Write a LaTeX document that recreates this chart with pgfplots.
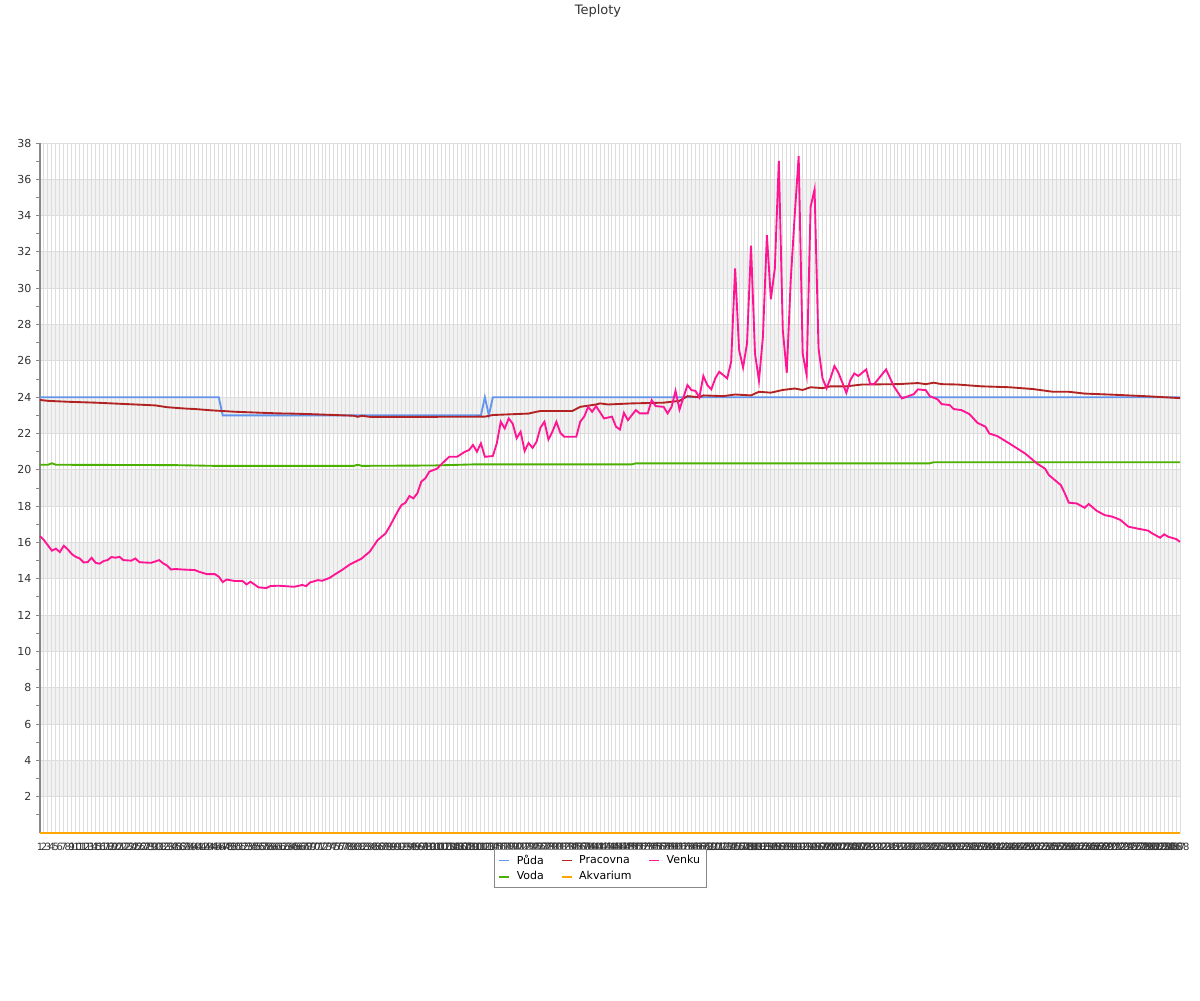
\documentclass[border=0pt]{standalone}
\usepackage{fontspec}
\setmainfont{DejaVu Sans}
\usepackage{pgfplots}
\pgfplotsset{compat=1.18}

\definecolor{puda}{HTML}{6495ED}
\definecolor{voda}{HTML}{4CB000}
\definecolor{pracovna}{HTML}{B22222}
\definecolor{akvarium}{HTML}{FFA500}
\definecolor{venku}{HTML}{FF1493}
\definecolor{txt}{HTML}{333333}
\definecolor{gridc}{HTML}{DDDDDD}
\definecolor{band}{HTML}{F2F2F2}
\definecolor{axc}{HTML}{888888}

\begin{document}
\begin{tikzpicture}
\path[use as bounding box] (0pt,0pt) rectangle (900pt,-750pt);
\node[font=\fontsize{9.75}{11}\selectfont, text=txt] at (448.5pt,-8.5pt) {Teploty};
% shaded bands behind the plot area (every other 2-degree row)
\foreach \b in {2,6,10,14,18,22,26,30,34} {
  \fill[band] (30pt,{-624.75pt+13.6184pt*\b}) rectangle (885pt,{-624.75pt+13.6184pt*(\b+2)});
}
\begin{axis}[
  at={(30pt,-624.75pt)}, anchor=south west,
  width=855pt, height=517.5pt, scale only axis,
  xmin=1, xmax=288, ymin=0, ymax=38,
  clip=false,
  axis lines*=left,
  axis line style={draw=axc, line width=0.75pt, -},
  xtick={1,...,288},
  xtick style={draw=none},
  xticklabel style={font=\fontsize{7.5}{8}\selectfont, text=txt, yshift=-1pt},
  ytick={2,4,...,38},
  minor ytick={1,3,...,37},
  ytick style={draw=axc, line width=0.75pt},
  minor tick style={draw=axc, line width=0.75pt},
  yticklabel style={font=\fontsize{8.25}{9}\selectfont, text=txt},
  tick align=outside,
  major tick length=3pt, minor tick length=3pt,
  /pgf/number format/assume math mode=true,
  xmajorgrids, ymajorgrids,
  major grid style={draw=gridc, line width=0.75pt},
  every axis plot/.append style={line width=1.4pt},
  legend columns=3,
  legend cell align=left,
  legend style={at={(0.4917,-0.0232)}, anchor=north, draw=axc, line width=0.75pt,
    font=\fontsize{8.25}{9}\selectfont, text=black,
    inner xsep=3pt, inner ysep=2pt,
    /tikz/every odd column/.append style={column sep=3pt},
    /tikz/every even column/.append style={column sep=10.5pt}},
  legend image code/.code={\draw[#1, line width=1.4pt] (0pt,0pt) -- (7.5pt,0pt);},
]
% Puda
\addplot[puda, forget plot] coordinates {
(1,24)(46,24)(47,23)(112,23)(113,24)(114,23)(115,24)(288,24)};
% Voda
\addplot[voda, forget plot] coordinates {
(1,20.28)(3,20.28)(4,20.36)(5,20.28)(35,20.26)(45,20.22)(60,20.22)(80,20.22)
(81,20.28)(82,20.22)(100,20.24)(110,20.3)(150,20.3)(151,20.36)(225,20.36)
(226,20.42)(288,20.42)};
% Pracovna
\addplot[pracovna, forget plot] coordinates {
(1,23.85)(3,23.8)(8,23.75)(15,23.7)(20,23.65)(25,23.6)(30,23.55)(33,23.45)
(36,23.4)(38,23.37)(40,23.35)(44,23.28)(47,23.24)(50,23.2)(56,23.15)(61,23.11)
(64,23.1)(69,23.07)(80,22.98)(81,22.92)(82,22.98)(84,22.92)(100,22.92)(113,22.93)
(115,23.02)(124,23.1)(126,23.2)(127,23.24)(135,23.24)(137,23.47)(141,23.6)
(142,23.66)(144,23.6)(150,23.66)(158,23.7)(162,23.8)(164,24.06)(167,24.0)
(168,24.1)(173,24.06)(176,24.15)(180,24.1)(182,24.3)(185,24.25)(188,24.4)
(191,24.48)(193,24.4)(195,24.55)(198,24.5)(200,24.6)(204,24.6)(208,24.7)
(217,24.72)(222,24.78)(224,24.72)(226,24.8)(228,24.72)(232,24.7)(238,24.6)
(245,24.55)(251,24.45)(256,24.3)(260,24.3)(264,24.2)(271,24.14)(280,24.05)
(288,23.95)};
% Akvarium
\addplot[akvarium, forget plot] coordinates {(1,0)(288,0)};
% Venku
\addplot[venku, forget plot] coordinates {
(1,16.35)(2,16.13)(4,15.55)(5,15.66)(6,15.47)(7,15.82)(8,15.62)(9,15.36)
(10,15.21)(11,15.12)(12,14.9)(13,14.92)(14,15.16)(15,14.88)(16,14.83)(17,14.98)
(18,15.03)(19,15.2)(20,15.16)(21,15.21)(22,15.03)(24,15.0)(25,15.12)(26,14.92)
(27,14.9)(29,14.88)(31,15.03)(32,14.85)(33,14.73)(34,14.51)(35,14.54)(37,14.51)
(40,14.48)(41,14.39)(43,14.26)(45,14.26)(46,14.12)(47,13.82)(48,13.96)(50,13.88)
(52,13.88)(53,13.69)(54,13.84)(56,13.53)(58,13.49)(59,13.6)(61,13.62)(65,13.56)
(67,13.66)(68,13.6)(69,13.8)(71,13.93)(72,13.89)(74,14.06)(75,14.21)(77,14.48)
(79,14.79)(82,15.12)(83,15.31)(84,15.49)(86,16.13)(88,16.5)(89,16.87)(91,17.69)
(92,18.06)(93,18.19)(94,18.56)(95,18.43)(96,18.71)(97,19.35)(98,19.53)(99,19.9)
(101,20.07)(102,20.3)(104,20.72)(106,20.72)(108,21.0)(109,21.09)(110,21.37)
(111,21.0)(112,21.46)(113,20.72)(115,20.76)(116,21.46)(117,22.65)(118,22.28)
(119,22.83)(120,22.55)(121,21.74)(122,22.1)(123,21.04)(124,21.48)(125,21.21)
(126,21.54)(127,22.33)(128,22.65)(129,21.67)(130,22.1)(131,22.65)(132,22.04)
(133,21.82)(136,21.82)(137,22.65)(138,22.93)(139,23.47)(140,23.2)(141,23.51)
(143,22.83)(145,22.93)(146,22.38)(147,22.22)(148,23.14)(149,22.74)(151,23.29)
(152,23.11)(154,23.11)(155,23.84)(156,23.51)(158,23.47)(159,23.11)(160,23.47)
(161,24.35)(162,23.32)(164,24.67)(165,24.39)(166,24.35)(167,23.99)(168,25.17)
(169,24.67)(170,24.43)(171,25.04)(172,25.4)(173,25.22)(174,25.04)(175,25.95)
(176,31.1)(177,26.6)(178,25.64)(179,26.97)(180,32.34)(181,26.41)(182,24.91)
(183,27.33)(184,32.93)(185,29.39)(186,31.1)(187,37.02)(188,27.7)(189,25.35)
(190,30.45)(191,34.03)(192,37.27)(193,26.41)(194,25.22)(195,34.49)(196,35.44)
(197,26.69)(198,25.04)(199,24.49)(200,25.04)(201,25.72)(202,25.35)(204,24.24)
(205,24.94)(206,25.31)(207,25.17)(209,25.53)(210,24.72)(211,24.72)(214,25.53)
(216,24.58)(218,23.93)(221,24.17)(222,24.43)(224,24.39)(225,24.06)(227,23.88)
(228,23.62)(230,23.57)(231,23.35)(233,23.29)(235,23.07)(237,22.59)(239,22.38)
(240,22.0)(242,21.86)(245,21.46)(247,21.18)(249,20.9)(250,20.72)(252,20.35)
(254,20.07)(255,19.71)(258,19.16)(259,18.71)(260,18.19)(262,18.15)(264,17.91)
(265,18.12)(267,17.75)(269,17.51)(271,17.42)(273,17.24)(275,16.87)(277,16.78)
(280,16.65)(281,16.5)(283,16.26)(284,16.45)(285,16.32)(287,16.19)(288,16.04)};

\addlegendimage{puda}\addlegendentry{Půda}
\addlegendimage{pracovna}\addlegendentry{Pracovna}
\addlegendimage{venku}\addlegendentry{Venku}
\addlegendimage{voda}\addlegendentry{Voda}
\addlegendimage{akvarium}\addlegendentry{Akvarium}
\end{axis}
\end{tikzpicture}
\end{document}
